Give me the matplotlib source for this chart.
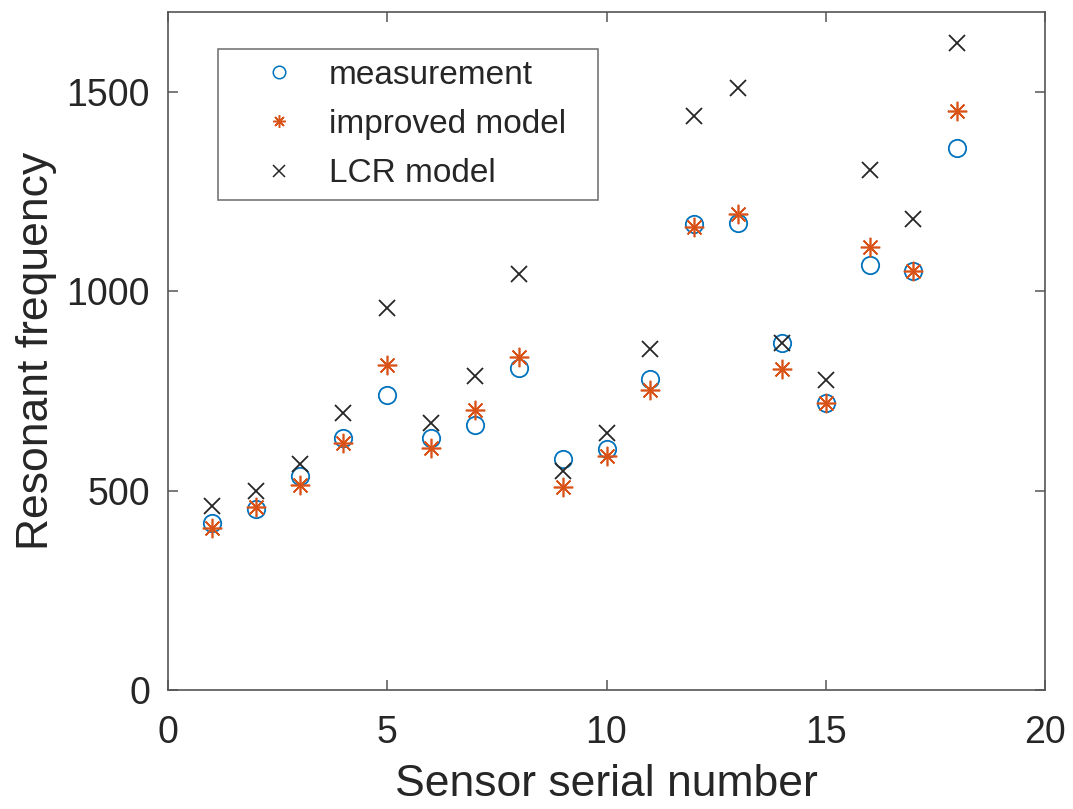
import matplotlib
matplotlib.use("Agg")
import matplotlib.pyplot as plt

plt.rcParams['font.family'] = ['Liberation Sans', 'DejaVu Sans']

serial = [1, 2, 3, 4, 5, 6, 7, 8, 9, 10, 11, 12, 13, 14, 15, 16, 17, 18]
measurement = [419, 454, 536, 632, 740, 633, 665, 807, 579, 604, 779, 1168, 1171, 869, 719, 1065, 1051, 1358]
improved = [407, 458, 515, 619, 815, 607, 702, 834, 509, 586, 751, 1162, 1194, 804, 719, 1112, 1051, 1451]
lcr = [462, 500, 567, 694, 957, 669, 787, 1042, 548, 644, 854, 1440, 1509, 869, 778, 1304, 1182, 1623]

blue = '#0072BD'
orange = '#D95319'
dark = '#262626'

fig = plt.figure(figsize=(10.73, 8.09), dpi=100)
ax = fig.add_axes([168/1073, 1 - 690/809, (1045-168)/1073, (690-12)/809])

ax.plot(serial, measurement, linestyle='none', marker='o', markerfacecolor='none',
        markeredgecolor=blue, markersize=12.5, markeredgewidth=1.3, label='measurement')
ax.plot(serial, improved, linestyle='none', color=orange, marker=(8, 2, 0),
        markersize=14, markeredgewidth=1.2, label='improved model')
ax.plot(serial, lcr, linestyle='none', color=dark, marker='x',
        markersize=11, markeredgewidth=1.3, label='LCR model')

ax.set_xlim(0, 20)
ax.set_ylim(0, 1700)
ax.set_xticks([0, 5, 10, 15, 20])
ax.set_yticks([0, 500, 1000, 1500])
ax.tick_params(direction='in', length=7, width=1.1, labelsize=27, colors='#555555',
               labelcolor=dark, top=True, right=True)
ax.tick_params(axis='x', pad=18)
ax.tick_params(axis='y', pad=13)
for s in ax.spines.values():
    s.set_color('#555555')
    s.set_linewidth(1.2)
ax.set_xlabel('Sensor serial number', fontsize=32, color=dark, labelpad=9)
ax.set_ylabel('Resonant frequency', fontsize=32, color=dark, labelpad=7)

x0 = (218 - 168) / 877
y1 = 1 - (49 - 12) / 678
w = (598 - 218) / 877
h = (196 - 49) / 678
leg = ax.legend(loc='upper left', bbox_to_anchor=(x0, y1 - h, w, h), mode='expand',
                fontsize=24, frameon=True, fancybox=False, borderaxespad=0,
                handlelength=3.0, handletextpad=0.0, borderpad=0.32, labelspacing=0.55)
leg.get_frame().set_edgecolor('#555555')
leg.get_frame().set_linewidth(1.2)
for t in leg.get_texts():
    t.set_color(dark)
for hd in leg.legend_handles:
    hd.set_markersize(9)
    hd.set_markeredgewidth(1.1)

fig.savefig('out.png', dpi=100)
